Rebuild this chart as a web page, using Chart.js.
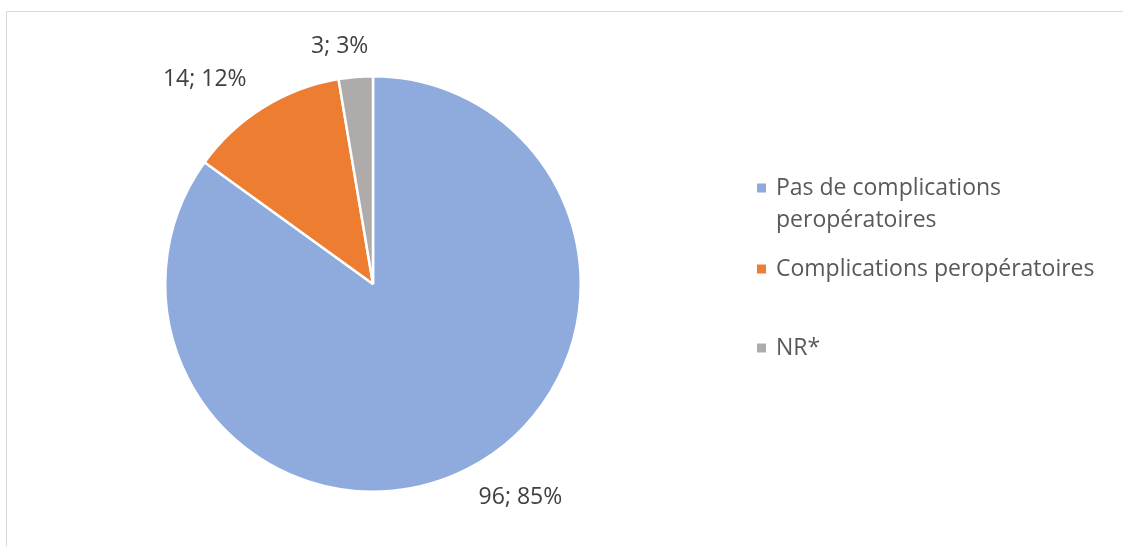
<!DOCTYPE html>
<html>
<head>
<meta charset="utf-8">
<script src="https://cdn.jsdelivr.net/npm/chart.js@4.4.1/dist/chart.umd.min.js"></script>
<style>
  html, body { margin: 0; padding: 0; background: #ffffff; }
  #wrap { position: relative; width: 1123px; height: 546px; }
  canvas { display: block; }
</style>
</head>
<body>
<div id="wrap"><canvas id="c" width="1123" height="546"></canvas></div>
<script>
// ---- Data ----
const categories = ["Pas de complications peropératoires", "Complications peropératoires", "NR*"];
const counts = [96, 14, 3];
const colors = ["#8FAADC", "#ED7D31", "#AFABAB"];

const FONT = "'Open Sans', sans-serif";
const total = counts.reduce((a, b) => a + b, 0);

// Frame plugin
const framePlugin = {
  id: 'frame',
  beforeDraw(chart) {
    const ctx = chart.ctx;
    ctx.save();
    ctx.strokeStyle = '#D9D9D9';
    ctx.lineWidth = 1;
    ctx.strokeRect(6.5, 11.5, 1300, 700);
    ctx.restore();
  }
};

// Data label plugin: "value; pct%"
const labelPlugin = {
  id: 'pieLabels',
  afterDatasetsDraw(chart, args, opts) {
    const ctx = chart.ctx;
    const meta = chart.getDatasetMeta(0);
    ctx.save();
    ctx.font = opts.font;
    ctx.fillStyle = opts.color;
    ctx.textAlign = 'center';
    ctx.textBaseline = 'middle';
    meta.data.forEach((arc, i) => {
      const v = counts[i];
      const pct = Math.round(v / total * 100);
      const mid = (arc.startAngle + arc.endAngle) / 2 + (opts.angleShift[i] || 0) * Math.PI / 180;
      const d = arc.outerRadius + opts.distance[i];
      const x = arc.x + Math.cos(mid) * d;
      const y = arc.y + Math.sin(mid) * d;
      ctx.fillText(v + '; ' + pct + '%', x, y);
    });
    ctx.restore();
  }
};

// Legend plugin with wrapping
const legendPlugin = {
  id: 'sideLegend',
  afterDraw(chart, args, opts) {
    const ctx = chart.ctx;
    ctx.save();
    ctx.font = opts.font;
    ctx.textBaseline = 'alphabetic';
    ctx.textAlign = 'left';
    let y = opts.top;
    chart.data.labels.forEach((lab, i) => {
      const words = lab.split(' ');
      const lines = [];
      let cur = '';
      words.forEach(w => {
        const t = cur ? cur + ' ' + w : w;
        if (ctx.measureText(t).width > opts.maxWidth && cur) { lines.push(cur); cur = w; }
        else cur = t;
      });
      if (cur) lines.push(cur);
      ctx.fillStyle = colors[i];
      ctx.fillRect(opts.left, y - opts.box / 2 - opts.boxLift, opts.box, opts.box);
      ctx.fillStyle = opts.color;
      lines.forEach((ln, k) => {
        ctx.fillText(ln, opts.left + opts.textGap, y + k * opts.lineHeight);
      });
      y += (lines.length - 1) * opts.lineHeight + (opts.gaps[i] || 0);
    });
    ctx.restore();
  }
};

new Chart(document.getElementById('c'), {
  type: 'pie',
  data: {
    labels: categories,
    datasets: [{
      data: counts,
      backgroundColor: colors,
      borderColor: '#ffffff',
      borderWidth: 2.5,
      hoverOffset: 0
    }]
  },
  options: {
    responsive: false,
    animation: false,
    events: [],
    layout: { padding: { left: 164, right: 541, top: 74, bottom: 52 } },
    plugins: {
      legend: { display: false },
      tooltip: { enabled: false },
      pieLabels: {
        font: "23px " + FONT,
        color: '#404040',
        angleShift: [-7.5, -7.6, -3.2],
        distance: [52, 57, 32]
      },
      sideLegend: {
        font: "23px " + FONT,
        color: '#595959',
        left: 757,
        textGap: 19,
        box: 9,
        boxLift: 7,
        top: 195,
        lineHeight: 32,
        maxWidth: 340,
        gaps: [49, 79, 0]
      }
    }
  },
  plugins: [framePlugin, labelPlugin, legendPlugin]
});
</script>
</body>
</html>
